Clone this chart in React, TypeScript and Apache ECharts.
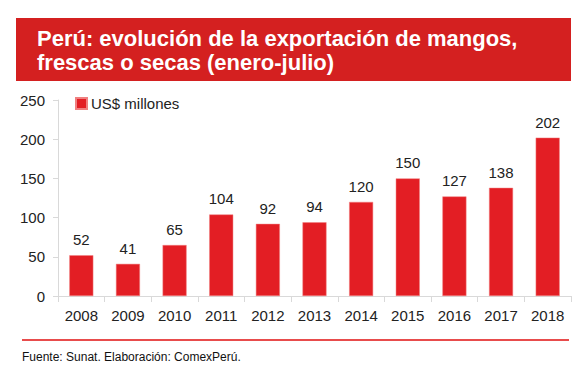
import React, { useEffect, useRef } from "react";
import * as echarts from "echarts";

const years = ["2008", "2009", "2010", "2011", "2012", "2013", "2014", "2015", "2016", "2017", "2018"];
const values = [52, 41, 65, 104, 92, 94, 120, 150, 127, 138, 202];
const seriesName = "US$ millones";
const titleLines = ["Perú: evolución de la exportación de mangos,", "frescas o secas (enero-julio)"];
const footer = "Fuente: Sunat. Elaboración: ComexPerú.";

export default function App() {
  const ref = useRef<HTMLDivElement>(null);
  useEffect(() => {
    const chart = echarts.init(ref.current!, null, { renderer: "svg" });
    const font = "Liberation Sans, Arial, sans-serif";
    chart.setOption({
      animation: false,
      textStyle: { fontFamily: font },
      grid: { left: 58, right: 10, top: 100, bottom: 73 },
      legend: {
        left: 70,
        top: 91,
        itemWidth: 11,
        itemHeight: 11,
        itemGap: 4,
        textStyle: { fontSize: 15, color: "#222", fontFamily: font, padding: [0, 0, 0, -1] },
        data: [{ name: seriesName, icon: "rect" }],
      },
      xAxis: {
        type: "category",
        data: years,
        axisLine: { lineStyle: { color: "#d9d9d9", width: 1 } },
        axisTick: { show: true, lineStyle: { color: "#d9d9d9" }, length: 6 },
        axisLabel: { fontSize: 15, color: "#222", margin: 12, fontFamily: font },
      },
      yAxis: {
        type: "value",
        min: 0,
        max: 250,
        interval: 50,
        axisLine: { show: true, lineStyle: { color: "#d9d9d9" } },
        axisTick: { show: true, lineStyle: { color: "#d9d9d9" }, length: 5 },
        splitLine: { show: false },
        axisLabel: { fontSize: 15, color: "#222", margin: 13, fontFamily: font },
      },
      series: [
        {
          name: seriesName,
          type: "bar",
          data: values,
          barWidth: 24,
          itemStyle: { color: "#E31E24", borderColor: "#f08080", borderWidth: 0.5 },
          label: { show: true, position: "top", fontSize: 15, color: "#222", distance: 8, fontFamily: font },
        },
      ],
      graphic: [
        { type: "rect", shape: { x: 16, y: 18, width: 555, height: 63 }, style: { fill: "#D42020" } },
        {
          type: "text",
          x: 37,
          y: 38,
          style: { text: titleLines[0], fill: "#fff", font: `bold 22px ${font}`, verticalAlign: "middle" },
        },
        {
          type: "text",
          x: 37,
          y: 62,
          style: { text: titleLines[1], fill: "#fff", font: `bold 22px ${font}`, verticalAlign: "middle" },
        },
        { type: "line", shape: { x1: 22, y1: 340, x2: 569, y2: 340 }, style: { stroke: "#E84C4C", lineWidth: 2 } },
        {
          type: "text",
          x: 22,
          y: 357,
          style: { text: footer, fill: "#111", font: `12px ${font}`, verticalAlign: "middle" },
        },
      ],
    });
    return () => chart.dispose();
  }, []);
  return <div ref={ref} style={{ width: 581, height: 369, position: "absolute", left: 0, top: 0 }} />;
}
